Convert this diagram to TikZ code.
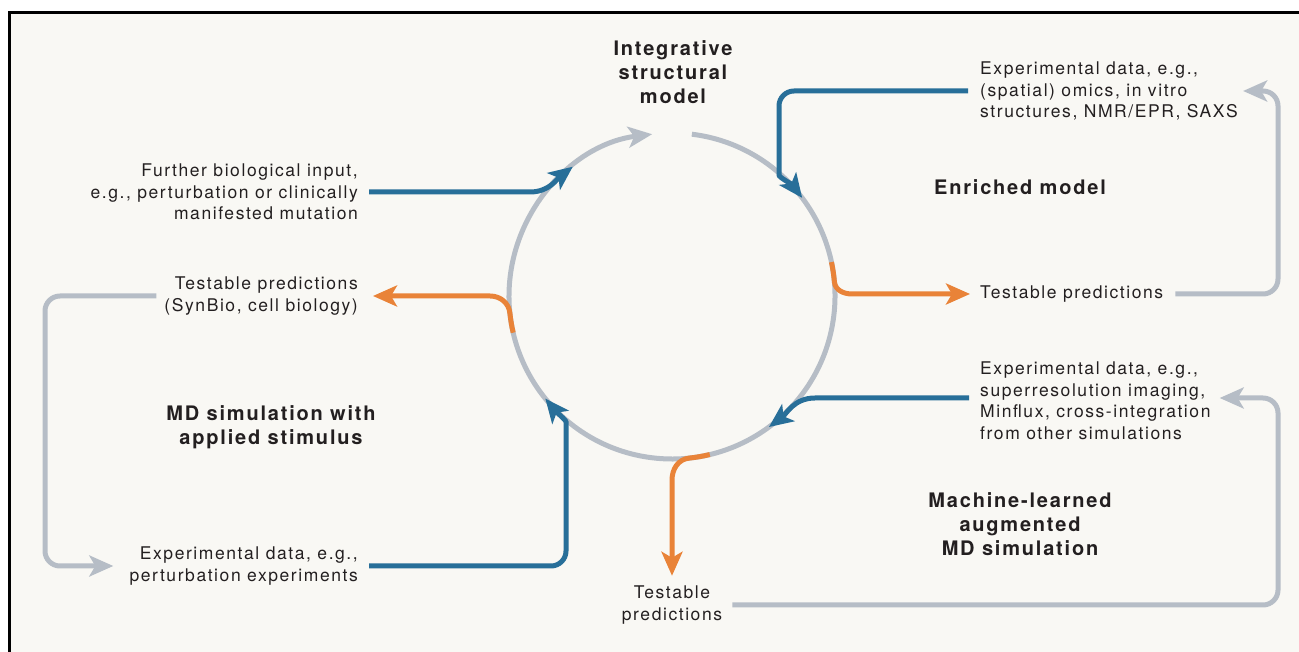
\documentclass[tikz,border=0pt]{standalone}
\usepackage{fontspec}
\setmainfont[LetterSpace=9]{TeX Gyre Heros}
\usetikzlibrary{arrows.meta}

\definecolor{flowblue}{RGB}{40,111,153}
\definecolor{floworange}{RGB}{233,131,56}
\definecolor{flowgrey}{RGB}{182,189,198}
\definecolor{paper}{RGB}{249,248,244}
\definecolor{ink}{RGB}{35,31,32}

\begin{document}
\begin{tikzpicture}[x=1pt, y=1pt,
	lbl/.style={font=\fontsize{17.5}{21.5}\selectfont, text=ink, inner sep=0pt},
	ttl/.style={font=\fontsize{20}{24}\selectfont\bfseries, text=ink, inner sep=0pt, align=center},
	flow/.style={line width=5pt, -{Stealth[length=24pt, width=21pt, inset=6pt]}},
	bluearr/.style={flow, draw=flowblue},
	orangearr/.style={flow, draw=floworange},
	greyarr/.style={flow, draw=flowgrey}]

	\useasboundingbox (0,0) rectangle (1299,652);
	\fill[paper] (9,0) rectangle (1299,639);
	\draw[line width=3pt] (9,0) -- (9,639) -- (1299,639);

	\coordinate (c) at (672,356);

	% titles
	\node[ttl] (ism) at (673,580) {Integrative\\structural\\model};
	\node[ttl] (enr) at (1020,465) {Enriched model};
	\node[ttl] (mds) at (271,225) {MD simulation with\\applied stimulus};
	\node[ttl] (mlm) at (1020,128) {Machine-learned\\augmented\\MD simulation};

	% labels
	\node[lbl, align=right, anchor=east] (bio) at (358,460) {Further biological input,\\e.g., perturbation or clinically\\manifested mutation};
	\node[lbl, align=left, anchor=west] (omics) at (980,561) {Experimental data, e.g.,\\(spatial) omics, in vitro\\structures, NMR/EPR, SAXS};
	\node[lbl, anchor=west] (predR) at (980,358) {Testable predictions};
	\node[lbl, align=right, anchor=east] (predL) at (358,356) {Testable predictions\\(SynBio, cell biology)};
	\node[lbl, align=left, anchor=west] (imaging) at (980,251) {Experimental data, e.g.,\\superresolution imaging,\\Minflux, cross-integration\\from other simulations};
	\node[lbl, align=right, anchor=east] (pert) at (358,86) {Experimental data, e.g.,\\perturbation experiments};
	\node[lbl, align=center] (predB) at (672,47) {Testable\\predictions};

	% points on the cycle
	\path (c) ++(83:163) coordinate (gapR);
	\path (c) ++(127.5:163) coordinate (tipA);
	\path (c) ++(37:163) coordinate (tipB);
	\path (c) ++(-53.5:163) coordinate (tipC);
	\path (c) ++(-141:163) coordinate (tipD);
	\path (c) ++(12:163) coordinate (orR);
	\path (c) ++(-76.6:163) coordinate (orB);
	\path (c) ++(193:163) coordinate (orL);

	% cycle
	\draw[greyarr] (gapR) arc[start angle=83, end angle=-263, radius=163];

	% inputs
	\draw[bluearr] ([xshift=11pt]bio.east) -- (530,460) to[out=0, in=-142.5] (tipA);
	\draw[bluearr, rounded corners=15pt] ([xshift=-12pt]omics.west) -| (779,492) [sharp corners] to[out=-90, in=127] (tipB);
	\draw[bluearr] ([xshift=-11pt, yshift=3pt]imaging.west) -- (815,254) to[out=180, in=36.5] (tipC);
	\draw[bluearr, rounded corners=15pt] ([xshift=11pt]pert.east) -| (566,215) [sharp corners] to[out=90, in=-51] (tipD);

	% predictions
	\draw[orangearr] (orR) arc[start angle=12, end angle=5, radius=163] to[out=-85, in=180] (852,358) -- ([xshift=-10pt]predR.west);
	\draw[orangearr] (orL) arc[start angle=193, end angle=186, radius=163] to[out=96, in=0] (490,356) -- ([xshift=15pt]predL.east);
	\draw[orangearr] (orB) arc[start angle=-76.6, end angle=-84, radius=163] to[out=-174, in=90] (672,172) -- ([yshift=10pt]predB.north);

	% feedback loops
	\draw[greyarr, rounded corners=15pt] ([xshift=12pt]predR.east) -| (1278,561) -- ([xshift=5pt]omics.east);
	\draw[greyarr, rounded corners=15pt] ([xshift=10pt]predB.east) -| (1278,254) -- ([xshift=9pt, yshift=3pt]imaging.east);
	\draw[greyarr, rounded corners=15pt] ([xshift=-8pt]predL.west) -| (45,86) -- ([xshift=-16pt]pert.west);
\end{tikzpicture}
\end{document}
